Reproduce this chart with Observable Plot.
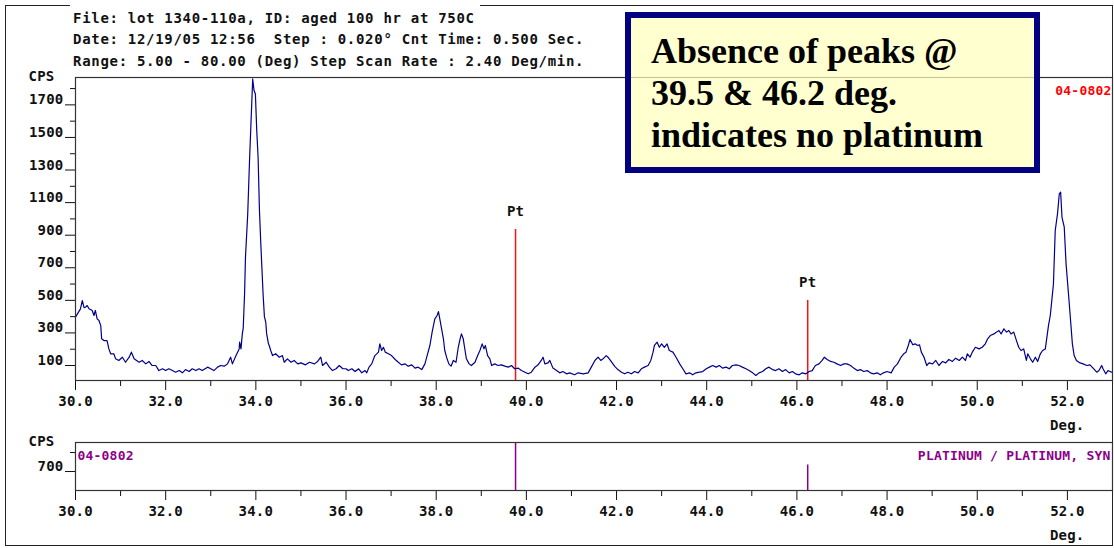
<!DOCTYPE html>
<html>
<head>
<meta charset="utf-8">
<script src="https://cdn.jsdelivr.net/npm/d3@7"></script>
<script src="https://cdn.jsdelivr.net/npm/@observablehq/plot@0.6"></script>
<style>
  html, body { margin: 0; padding: 0; background: #fff; }
  #wrap { position: relative; width: 1114px; height: 548px; overflow: hidden; background: #fff; }
  .abs { position: absolute; }
  .mono { font-family: 'DejaVu Sans Mono', monospace; font-weight: bold; font-size: 14px; letter-spacing: 0.7px; white-space: pre; color: #111; line-height: 16px; }
  #border { left: 5px; top: 5px; width: 1108px; height: 541px; border: 1.5px solid #222; box-sizing: border-box; z-index: 0; }
  #mask { left: 70px; top: 2px; width: 410px; height: 8px; background: #fff; z-index: 1; }
  #main { left: 0; top: 0; z-index: 2; }
  #ref { left: 0; top: 430px; z-index: 2; }
  #note { left: 625px; top: 12px; width: 383px; height: 137px; border: 6px solid #000080; background: rgba(255,255,190,0.72);
          z-index: 3; font-family: 'Liberation Serif', 'Times New Roman', serif; font-weight: bold; font-size: 36px; line-height: 42px;
          padding: 12px 0 0 20px; box-sizing: content-box; color: #000; }
  #note div { white-space: nowrap; }
  .hdr { z-index: 4; left: 73px; }
</style>
</head>
<body>
<div id="wrap">
  <div id="border" class="abs"></div>
  <div id="mask" class="abs"></div>
  <div id="main" class="abs"></div>
  <div id="ref" class="abs"></div>
  <div id="note" class="abs"></div>
  <div id="h1" class="abs mono hdr" style="top:10px"></div>
  <div id="h2" class="abs mono hdr" style="top:31px"></div>
  <div id="h3" class="abs mono hdr" style="top:53px"></div>
</div>
<script>
// ---------- text ----------
const headerLines = [
  "File: lot 1340-110a, ID: aged 100 hr at 750C",
  "Date: 12/19/05 12:56  Step : 0.020° Cnt Time: 0.500 Sec.",
  "Range: 5.00 - 80.00 (Deg) Step Scan Rate : 2.40 Deg/min."
];
const noteLines = ["Absence of peaks @", "39.5 & 46.2 deg.", "indicates no platinum"];
const cardId = "04-0802";
const cardName = "PLATINUM / PLATINUM, SYN";

// ---------- scan data (2-theta in degrees, counts per second) ----------
const twoTheta = [
  30.00,30.05,30.11,30.15,30.19,30.22,30.26,30.30,30.37,30.41,30.44,30.48,30.52,30.56,30.58,30.63,30.70,30.74,30.78,30.85,
  30.89,30.96,31.04,31.11,31.19,31.24,31.30,31.41,31.48,31.56,31.63,31.70,31.78,31.85,31.93,32.00,32.07,32.15,32.22,32.30,
  32.37,32.44,32.52,32.59,32.67,32.74,32.81,32.93,33.00,33.07,33.15,33.22,33.30,33.37,33.44,33.48,33.56,33.63,33.64,33.67,
  33.70,33.72,33.75,33.77,33.82,33.86,33.89,33.93,33.96,33.99,34.02,34.05,34.08,34.11,34.16,34.19,34.22,34.24,34.28,34.30,
  34.33,34.37,34.44,34.52,34.59,34.63,34.70,34.78,34.85,34.93,35.00,35.10,35.19,35.30,35.37,35.44,35.48,35.56,35.63,35.70,
  35.78,35.85,35.93,36.00,36.05,36.13,36.20,36.28,36.35,36.42,36.46,36.51,36.57,36.64,36.72,36.75,36.79,36.83,36.87,36.94,
  37.01,37.09,37.16,37.23,37.31,37.38,37.46,37.53,37.60,37.68,37.75,37.79,37.86,37.91,37.97,38.02,38.05,38.08,38.12,38.16,
  38.19,38.23,38.28,38.33,38.38,38.44,38.49,38.53,38.56,38.60,38.64,38.67,38.73,38.78,38.86,38.92,38.97,39.02,39.06,39.09,
  39.14,39.19,39.23,39.30,39.37,39.45,39.52,39.60,39.67,39.74,39.82,39.89,39.97,40.04,40.11,40.19,40.26,40.33,40.37,40.41,
  40.48,40.52,40.59,40.67,40.74,40.81,40.89,40.96,41.07,41.15,41.26,41.37,41.44,41.52,41.59,41.65,41.70,41.77,41.81,41.88,
  41.96,42.03,42.11,42.18,42.25,42.33,42.40,42.48,42.55,42.62,42.70,42.76,42.81,42.84,42.90,42.95,43.00,43.06,43.12,43.17,
  43.25,43.32,43.40,43.47,43.54,43.62,43.69,43.76,43.84,43.91,43.99,44.06,44.13,44.21,44.28,44.35,44.43,44.50,44.57,44.65,
  44.72,44.79,44.87,44.94,45.02,45.09,45.16,45.24,45.31,45.38,45.46,45.53,45.60,45.68,45.75,45.83,45.90,45.97,46.05,46.12,
  46.20,46.27,46.34,46.41,46.49,46.56,46.61,46.67,46.75,46.82,46.89,46.97,47.04,47.11,47.19,47.26,47.34,47.41,47.48,47.56,
  47.63,47.70,47.78,47.85,47.92,48.00,48.09,48.16,48.23,48.31,48.37,48.42,48.47,48.51,48.57,48.62,48.68,48.72,48.76,48.82,
  48.88,48.93,49.01,49.08,49.15,49.23,49.30,49.37,49.45,49.52,49.60,49.67,49.74,49.78,49.84,49.89,49.96,50.04,50.11,50.18,
  50.23,50.29,50.37,50.43,50.48,50.53,50.59,50.65,50.70,50.75,50.81,50.87,50.92,50.97,51.03,51.09,51.12,51.18,51.23,51.29,
  51.34,51.40,51.45,51.51,51.54,51.58,51.62,51.65,51.69,51.73,51.78,51.82,51.85,51.88,51.93,51.97,52.03,52.07,52.11,52.15,
  52.20,52.28,52.35,52.43,52.50,52.57,52.65,52.70,52.76,52.79,52.85,52.90,52.98,53.00
];
const counts = [
  397,420,448,499,455,458,468,448,438,407,438,386,376,345,264,253,253,202,172,172,
  141,131,151,120,151,182,141,120,131,110,125,100,100,69,80,69,80,69,59,69,
  55,75,63,80,69,80,69,90,80,69,90,100,96,110,151,110,161,202,243,202,
  294,330,540,765,1031,1358,1573,1859,1788,1767,1542,1379,1051,847,540,400,366,294,233,220,
  192,161,172,151,161,120,141,120,131,110,116,104,120,110,125,151,100,120,90,69,
  80,100,80,80,69,80,63,80,55,69,55,90,110,161,182,233,192,212,182,172,
  161,137,120,104,110,96,104,84,90,75,110,151,223,305,386,407,431,386,325,264,
  192,151,110,96,131,120,212,264,294,264,192,141,110,100,120,161,192,233,202,223,
  161,141,100,110,100,104,96,90,100,80,84,69,59,49,59,90,104,131,151,110,
  116,131,84,69,55,63,49,55,43,55,49,55,90,131,151,131,141,161,151,125,
  95,75,59,49,59,49,63,55,80,90,100,131,182,223,243,212,233,212,233,192,
  182,151,110,80,49,55,43,55,59,63,80,90,100,90,100,84,90,80,100,104,
  100,90,80,69,55,39,55,63,80,90,75,69,80,63,75,55,63,49,43,55,
  49,63,69,100,110,131,151,137,125,120,110,100,110,110,100,84,69,75,63,69,
  55,49,55,43,55,63,55,90,110,151,172,182,223,260,227,233,223,227,182,151,
  100,116,110,131,100,125,116,137,125,145,131,151,131,172,151,182,212,202,212,233,
  264,284,294,305,315,294,325,305,315,294,305,253,212,192,202,131,172,141,120,151,
  125,172,192,202,264,345,407,489,600,929,1031,1154,1164,1010,949,724,519,376,233,161,
  131,116,110,100,104,84,59,69,100,80,49,69,59,60
];

// platinum reference lines (card 04-0802)
const ptAngles = [39.76, 46.24];
const ptMarkerCps = [935, 500];      // red markers drawn in the scan panel
const ptCardCps = [1770, 940];       // reference stick heights in lower panel

// axis ticks
const majorX = [30, 32, 34, 36, 38, 40, 42, 44, 46, 48, 50, 52];
const minorX = [31, 33, 35, 37, 39, 41, 43, 45, 47, 49, 51];
const majorY = [100, 300, 500, 700, 900, 1100, 1300, 1500, 1700];
const minorY = [200, 400, 600, 800, 1000, 1200, 1400, 1600, 1800];
const refMajorY = [700];
const refMinorY = [1400];

// ---------- build ----------
const FONT = "'DejaVu Sans Mono', monospace";
const scan = twoTheta.map((x, i) => ({x, y: counts[i]}));
const markers = ptAngles.map((x, i) => ({x, y: ptMarkerCps[i]}));
const sticks = ptAngles.map((x, i) => ({x, y: ptCardCps[i]}));

headerLines.forEach((t, i) => document.getElementById("h" + (i + 1)).textContent = t);
const note = document.getElementById("note");
noteLines.forEach(t => { const d = document.createElement("div"); d.textContent = t; note.appendChild(d); });

const svgStyle = {background: "transparent", fontFamily: FONT, fontSize: "14px", fontWeight: "bold", color: "#111", overflow: "visible", letterSpacing: "0.2px"};

function xAxes() {
  return [
    Plot.axisX({ticks: majorX, tickFormat: d => d.toFixed(1), tickSize: 10, tickPadding: 6, label: null}),
    Plot.axisX({ticks: minorX, tickFormat: () => "", tickSize: 6, label: null}),
    Plot.text(["Deg."], {frameAnchor: "bottom-right", text: d => d, dx: -28, dy: 45, lineAnchor: "middle", textAnchor: "end", fill: "#111"})
  ];
}

const main = Plot.plot({
  width: 1114, height: 440,
  marginLeft: 75, marginRight: 2, marginTop: 77, marginBottom: 60,
  x: {domain: [30, 53], label: null},
  y: {domain: [8, 1868], label: null},
  style: svgStyle,
  marks: [
    ...xAxes(),
    Plot.axisY({ticks: majorY, tickSize: 10, fill: "none", label: null}),
    Plot.axisY({ticks: minorY, tickSize: 5, fill: "none", label: null}),
    Plot.axisY({ticks: majorY, tickSize: 0, tickPadding: 12, dy: -5, tickFormat: d => String(d), label: null}),
    Plot.text(["CPS"], {frameAnchor: "top-left", text: d => d, dx: -34, dy: -1, textAnchor: "middle", lineAnchor: "middle", fill: "#111"}),
    Plot.ruleX(markers, {x: "x", y1: 8, y2: "y", stroke: "#ff1010", strokeWidth: 1.5}),
    Plot.text(markers, {x: "x", y: "y", text: () => "Pt", dy: -18, lineAnchor: "middle", fill: "#111"}),
    Plot.lineY(scan, {x: "x", y: "y", stroke: "#00008b", strokeWidth: 1.2}),
    Plot.frame({stroke: "#333", strokeWidth: 1.2}),
    Plot.text([cardId], {frameAnchor: "top-right", text: d => d, dx: -1, dy: 13, lineAnchor: "middle", textAnchor: "end", fill: "#ff0000", fontSize: 13, letterSpacing: "0.6px"})
  ]
});
document.getElementById("main").appendChild(main);

const ref = Plot.plot({
  width: 1114, height: 118,
  marginLeft: 75, marginRight: 2, marginTop: 12, marginBottom: 58,
  x: {domain: [30, 53], label: null},
  y: {domain: [0, 1770], label: null},
  style: svgStyle,
  marks: [
    ...xAxes(),
    Plot.axisY({ticks: refMajorY, tickSize: 10, fill: "none", label: null}),
    Plot.axisY({ticks: refMinorY, tickSize: 5, fill: "none", label: null}),
    Plot.axisY({ticks: refMajorY, tickSize: 0, tickPadding: 12, dy: -5, tickFormat: d => String(d), label: null}),
    Plot.text(["CPS"], {frameAnchor: "top-left", text: d => d, dx: -34, dy: -1, textAnchor: "middle", lineAnchor: "middle", fill: "#111"}),
    Plot.ruleX(sticks, {x: "x", y1: 0, y2: "y", stroke: "#8b008b", strokeWidth: 1.5}),
    Plot.frame({stroke: "#333", strokeWidth: 1.2}),
    Plot.text([cardId], {frameAnchor: "top-left", text: d => d, dx: 2, dy: 13, lineAnchor: "middle", textAnchor: "start", fill: "#8b008b", fontSize: 13, letterSpacing: "0.6px"}),
    Plot.text([cardName], {frameAnchor: "top-right", text: d => d, dx: -2, dy: 13, lineAnchor: "middle", textAnchor: "end", fill: "#8b008b", fontSize: 13, letterSpacing: "0.6px"})
  ]
});
document.getElementById("ref").appendChild(ref);
</script>
</body>
</html>
